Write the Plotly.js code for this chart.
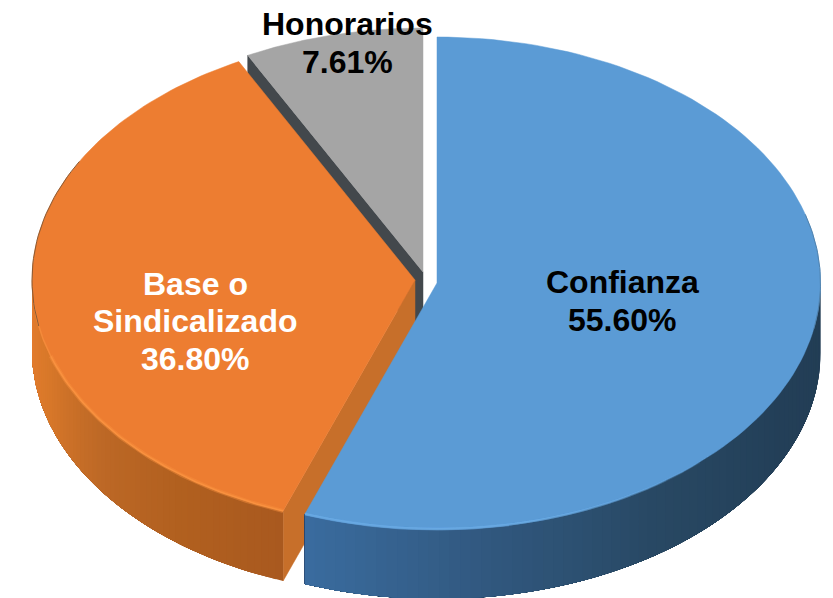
<!DOCTYPE html>
<html>
<head>
<meta charset="utf-8">
<script src="https://cdn.plot.ly/plotly-3.0.1.min.js"></script>
<style>html,body{margin:0;padding:0;background:#fff}#chart{width:833px;height:598px}</style>
</head>
<body>
<div id="chart"></div>
<script>
const categories = ["Confianza", "Base o Sindicalizado", "Honorarios"];
const shares = [55.60, 36.80, 7.61];
const percentLabels = ["55.60%", "36.80%", "7.61%"];
const labelLines = [["Confianza", "55.60%"], ["Base o", "Sindicalizado", "36.80%"], ["Honorarios", "7.61%"]];
const labelColors = ["#000000", "#ffffff", "#000000"];
const labelCenters = [[622, 301], [195, 321], [347, 43]];
const topColors = ["#5b9bd5", "#ed7d31", "#a5a5a5"];
const centers = [[437, 283], [415, 280], [423, 272]];
const radii = [[383.5, 246], [383, 246], [381, 244]];
const depth = 70;

const total = shares.reduce((a, b) => a + b, 0);
const fractions = shares.map(s => s / total);
const startTurn = [0, fractions[0], fractions[0] + fractions[1]];
const endTurn = [fractions[0], fractions[0] + fractions[1], 1];

function rim(i, t, drop) {
  const a = t * 2 * Math.PI;
  return [centers[i][0] + radii[i][0] * Math.sin(a), centers[i][1] - radii[i][1] * Math.cos(a) + (drop || 0)];
}
function hex(c) { return [1, 3, 5].map(k => parseInt(c.substr(k, 2), 16)); }
function mix(stops, f) {
  f = Math.max(0, Math.min(1, f)) * (stops.length - 1);
  const k = Math.min(Math.floor(f), stops.length - 2), u = f - k;
  const A = hex(stops[k]), B = hex(stops[k + 1]);
  return "rgb(" + A.map((v, j) => Math.round(v + (B[j] - v) * u)).join(",") + ")";
}
const traces = [];
function poly(pts, color, name, width) {
  traces.push({
    type: "scatter", mode: "lines", x: pts.map(p => p[0]), y: pts.map(p => p[1]),
    fill: "toself", fillcolor: color, line: {color: color, width: width},
    hoverinfo: "text", text: name, showlegend: false
  });
}
function line(pts, color, width) {
  traces.push({
    type: "scatter", mode: "lines", x: pts.map(p => p[0]), y: pts.map(p => p[1]),
    line: {color: color, width: width}, hoverinfo: "skip", showlegend: false
  });
}
function arc(i, t0, t1, drop, n) {
  const out = [];
  for (let k = 0; k <= n; k++) out.push(rim(i, t0 + (t1 - t0) * k / n, drop));
  return out;
}
function face(i) {
  poly([centers[i]].concat(arc(i, startTurn[i], endTurn[i], 0, 120)).concat([centers[i]]), topColors[i], categories[i] + " " + percentLabels[i], 0.5);
}
// Each strip runs on to the far end of the wall, so later strips overpaint it with no seams.
function wall(i, t0, t1, stops, n) {
  for (let k = 0; k < n; k++) {
    const a = t0 + (t1 - t0) * k / n;
    const upper = arc(i, a, t1, 0, 60), lower = arc(i, a, t1, depth, 60).reverse();
    poly(upper.concat(lower, [upper[0]]), mix(stops, (k + 0.5) / n), categories[i], 0);
  }
}
function cut(i, t, color) {
  const edge = rim(i, t, 0), bottom = rim(i, t, depth);
  const c = centers[i];
  poly([c, edge, bottom, [c[0], c[1] + depth], c], color, categories[i], 0.5);
}
// Rim highlight that fades in from t0 over the span up to tFull, then holds to t1.
function glow(i, t0, tFull, t1, r, g, b) {
  const steps = 10;
  for (let k = 0; k < steps; k++) {
    const a = t0 + (tFull - t0) * k / steps;
    const o = 0.12;
    line(arc(i, a, t1, 0, 50), "rgba(" + r + "," + g + "," + b + "," + o + ")", 2.2);
  }
}

// Honorarios
cut(2, startTurn[2], "#43484c");
face(2);
// Base o Sindicalizado
cut(1, startTurn[1], "#c76f2a");
wall(1, startTurn[1], 0.75, ["#a9591f", "#b1601f", "#bd6826", "#d87829", "#e57c2f"], 60);
face(1);
line(arc(1, startTurn[1], 0.70, 0, 60), "rgba(249,145,63,0.45)", 4);
line(arc(1, startTurn[1], 0.70, 0, 60), "#f9913f", 1.6);
line(arc(1, 0.70, 0.735, 0, 14), "#f48a3a", 1.5);
// Confianza
wall(0, 0.25, endTurn[0], ["#223d54", "#233f58", "#284863", "#31587f", "#3a6c9f"], 70);
face(0);
glow(0, 0.38, 0.47, endTurn[0], 118, 182, 240);
line(arc(0, 0.47, endTurn[0], 0, 40), "rgba(104,168,226,0.5)", 3);
line(arc(0, 0.205, 0.28, 0, 30), "#4f82ae", 1);
line(arc(1, 0.72, 0.83, 0, 30), "#8a5a34", 1);

const annotations = [];
labelLines.forEach((lines, i) => {
  const step = 37.5;
  lines.forEach((txt, j) => {
    annotations.push({
      x: labelCenters[i][0], y: labelCenters[i][1] + (j - (lines.length - 1) / 2) * step,
      xref: "x", yref: "y", text: txt, showarrow: false, xanchor: "center", yanchor: "middle",
      font: {family: "Liberation Sans, Arial, sans-serif", size: 32, color: labelColors[i], weight: 700}
    });
  });
});

const layout = {
  width: 833, height: 598, margin: {l: 0, r: 0, t: 0, b: 0},
  paper_bgcolor: "#ffffff", plot_bgcolor: "#ffffff", showlegend: false,
  xaxis: {range: [0, 833], visible: false, fixedrange: true},
  yaxis: {range: [598, 0], visible: false, fixedrange: true},
  annotations: annotations
};
Plotly.newPlot("chart", traces, layout, {displayModeBar: false, staticPlot: true});
</script>
</body>
</html>
